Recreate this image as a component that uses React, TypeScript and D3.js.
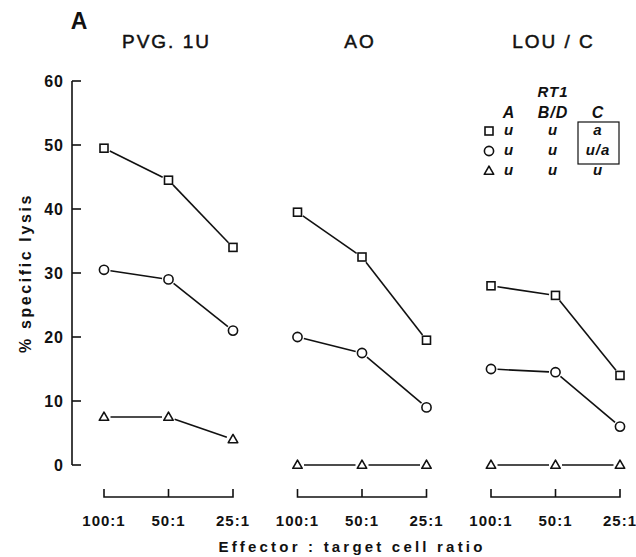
import React from 'react';
import * as d3 from 'd3';

// panel names, ratios and % specific lysis
const panels = ['PVG. 1U', 'AO', 'LOU / C'];
const ratios = ['100:1', '50:1', '25:1'];
const squareValues = [
  [49.5, 44.5, 34],
  [39.5, 32.5, 19.5],
  [28, 26.5, 14],
];
const circleValues = [
  [30.5, 29, 21],
  [20, 17.5, 9],
  [15, 14.5, 6],
];
const triangleValues = [
  [7.5, 7.5, 4],
  [0, 0, 0],
  [0, 0, 0],
];
const yTicks = [0, 10, 20, 30, 40, 50, 60];

// legend table (RT1 haplotypes)
const legendHeaders = ['A', 'B/D', 'C'];
const legendRows = [
  ['u', 'u', 'a'],
  ['u', 'u', 'u/a'],
  ['u', 'u', 'u'],
];

const W = 636;
const H = 557;
const font = '"Liberation Sans", Arial, sans-serif';

const y = d3.scaleLinear().domain([0, 60]).range([465, 81]);
const panelX = d3.scaleBand<string>().domain(panels).range([104, 620]).paddingInner(1 / 3).paddingOuter(0);
const ratioX = d3.scalePoint<string>().domain(ratios).range([0, panelX.bandwidth()]);

const px = (panel: string, r: string) => (panelX(panel) as number) + (ratioX(r) as number);

type Shape = 'square' | 'circle' | 'triangle';

const Marker = ({ shape, cx, cy }: { shape: Shape; cx: number; cy: number }) => {
  const common = { fill: '#fff', stroke: '#111', strokeWidth: 1.6 };
  if (shape === 'square') return <rect x={cx - 4} y={cy - 4} width={8} height={8} {...common} />;
  if (shape === 'circle') return <circle cx={cx} cy={cy} r={4.6} {...common} />;
  const s = 9.5;
  const h = (s * Math.sqrt(3)) / 2;
  const pts = [
    [cx, cy - h * 0.6],
    [cx - s / 2, cy + h * 0.4],
    [cx + s / 2, cy + h * 0.4],
  ];
  return <path d={'M' + pts.map((p) => p.join(',')).join('L') + 'Z'} {...common} strokeLinejoin="round" />;
};

// line pieces that stop short of the markers
const segments = (pts: [number, number][], gap: number) => {
  const out: string[] = [];
  for (let i = 0; i < pts.length - 1; i++) {
    const [x1, y1] = pts[i];
    const [x2, y2] = pts[i + 1];
    const len = Math.hypot(x2 - x1, y2 - y1);
    const ux = (x2 - x1) / len;
    const uy = (y2 - y1) / len;
    out.push(`M${x1 + ux * gap},${y1 + uy * gap}L${x2 - ux * gap},${y2 - uy * gap}`);
  }
  return out;
};

const series: { shape: Shape; values: number[][] }[] = [
  { shape: 'square', values: squareValues },
  { shape: 'circle', values: circleValues },
  { shape: 'triangle', values: triangleValues },
];

export default function App() {
  const legendX = [509, 553, 598];
  const legendY = [135, 155, 175];
  return (
    <div style={{ position: 'absolute', left: 0, top: 0 }}>
      <svg width={W} height={H} style={{ display: 'block', background: '#fff' }} fontFamily={font}>
        <text x={79} y={29} fontSize={23} fontWeight="bold" textAnchor="middle" fill="#111">A</text>

        {panels.map((p) => (
          <text key={p} x={(panelX(p) as number) + panelX.bandwidth() / 2 - 2} y={48} fontSize={19}
            letterSpacing={2} textAnchor="middle" fill="#111" stroke="#111" strokeWidth={0.5}>{p}</text>
        ))}

        {/* y axis */}
        <g stroke="#111" strokeWidth={1.6} fill="none">
          <line x1={72} x2={72} y1={y(60)} y2={y(0)} />
          {yTicks.map((t) => (
            <line key={t} x1={72} x2={81} y1={y(t)} y2={y(t)} />
          ))}
        </g>
        {yTicks.map((t) => (
          <text key={t} x={64} y={y(t)} dy="0.36em" fontSize={16} fontWeight="bold" letterSpacing={1}
            textAnchor="end" fill="#111">{t}</text>
        ))}
        <text transform={`translate(31,${y(30)}) rotate(-90)`} fontSize={16} fontWeight="bold"
          letterSpacing={2.6} textAnchor="middle" fill="#111">% specific lysis</text>

        {/* x brackets per panel */}
        {panels.map((p) => (
          <g key={p}>
            <path d={`M${px(p, ratios[0])},489V497H${px(p, ratios[2])}V489`} stroke="#111"
              strokeWidth={1.6} fill="none" />
            <line x1={px(p, ratios[1])} x2={px(p, ratios[1])} y1={489} y2={497} stroke="#111" strokeWidth={1.6} />
            {ratios.map((r) => (
              <text key={r} x={px(p, r)} y={526} fontSize={15} fontWeight="bold" letterSpacing={1}
                textAnchor="middle" fill="#111">{r}</text>
            ))}
          </g>
        ))}
        <text x={352} y={552} fontSize={15} fontWeight="bold" letterSpacing={3.2} textAnchor="middle"
          fill="#111">Effector : target cell ratio</text>

        {/* data */}
        {series.map((s) =>
          panels.map((p, pi) => {
            const pts = ratios.map((r, ri) => [px(p, r), y(s.values[pi][ri])] as [number, number]);
            return (
              <g key={s.shape + p}>
                {segments(pts, 6.5).map((d, i) => (
                  <path key={i} d={d} stroke="#111" strokeWidth={1.6} fill="none" />
                ))}
                {pts.map(([cx, cy], i) => (
                  <Marker key={i} shape={s.shape} cx={cx} cy={cy} />
                ))}
              </g>
            );
          })
        )}

        {/* legend */}
        <g fontStyle="italic" fontWeight="bold" fill="#111">
          <text x={553} y={97} fontSize={15} textAnchor="middle" letterSpacing={1}>RT1</text>
          {legendHeaders.map((h, i) => (
            <text key={h} x={legendX[i]} y={118} fontSize={16} textAnchor="middle" letterSpacing={1}>{h}</text>
          ))}
          {legendRows.map((row, ri) =>
            row.map((c, ci) => (
              <text key={ri + '-' + ci} x={legendX[ci]} y={legendY[ri]} fontSize={15} textAnchor="middle"
                letterSpacing={1}>{c}</text>
            ))
          )}
        </g>
        {series.map((s, i) => (
          <Marker key={s.shape} shape={s.shape} cx={489} cy={legendY[i] - 4} />
        ))}
        <rect x={578} y={122} width={41} height={42} fill="none" stroke="#111" strokeWidth={1.2} />
      </svg>
    </div>
  );
}
